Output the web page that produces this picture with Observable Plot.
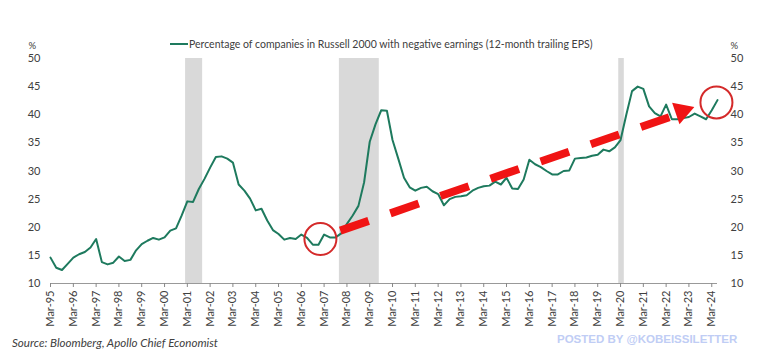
<!DOCTYPE html>
<html>
<head>
<meta charset="utf-8">
<script src="https://cdn.jsdelivr.net/npm/d3@7"></script>
<script src="https://cdn.jsdelivr.net/npm/@observablehq/plot@0.6"></script>
<style>
  html, body { margin: 0; padding: 0; background: #fff; }
  #wrap { position: relative; width: 763px; height: 361px; overflow: hidden; font-family: Lato, "Open Sans", sans-serif; }
  #chart { position: absolute; left: 0; top: 0; }
  .legend { position: absolute; left: 170px; top: 38px; font-size: 10.5px; color: #404040; white-space: nowrap; display: flex; align-items: center; }
  .legend .sw { display: inline-block; width: 18px; height: 2px; background: #1e7a5e; margin-right: 1px; }
  .source { position: absolute; left: 12px; top: 336px; font-size: 11.6px; font-style: italic; color: #404040; }
  .wm { position: absolute; left: 557px; top: 333px; font-family: "Liberation Sans", Arial, sans-serif; font-weight: bold; font-size: 11.5px; color: #c0cdf5; white-space: nowrap; }
</style>
</head>
<body>
<div id="wrap">
  <div id="chart"></div>
  <div class="legend"><span class="sw"></span><span id="legendText"></span></div>
  <div class="source" id="sourceText"></div>
  <div class="wm" id="wmText"></div>
</div>
<script>
// ---- Data (quarterly, starting Mar-95) ----
const startDate = "1995-03-01";
const pctNegative = [
  14.6, 12.8, 12.4, 13.5,   // 1995
  14.6, 15.2, 15.6, 16.4,   // 1996
  17.9, 13.8, 13.4, 13.7,   // 1997
  14.8, 14.0, 14.2, 15.9,   // 1998
  17.0, 17.6, 18.1, 17.8,   // 1999
  18.2, 19.4, 19.8, 22.1,   // 2000
  24.6, 24.5, 26.8, 28.6,   // 2001
  30.6, 32.5, 32.6, 32.2,   // 2002
  31.5, 27.6, 26.5, 25.1,   // 2003
  23.0, 23.3, 21.2, 19.5,   // 2004
  18.8, 17.8, 18.1, 17.9,   // 2005
  18.7, 18.1, 16.9, 16.9,   // 2006
  18.7, 18.2, 18.2, 18.9,   // 2007
  20.6, 22.1, 23.8, 28.0,   // 2008
  35.2, 38.3, 40.8, 40.7,   // 2009
  35.5, 32.2, 28.8, 27.1,   // 2010
  26.5, 27.0, 27.2, 26.4,   // 2011
  25.9, 23.9, 25.0, 25.4,   // 2012
  25.5, 25.7, 26.5, 27.0,   // 2013
  27.3, 27.4, 28.1, 27.6,   // 2014
  28.8, 26.9, 26.8, 28.5,   // 2015
  32.0, 31.2, 30.7, 30.0,   // 2016
  29.4, 29.4, 30.0, 30.1,   // 2017
  32.2, 32.3, 32.4, 32.7,   // 2018
  32.9, 33.8, 33.5, 34.2,   // 2019
  35.5, 40.0, 44.2, 45.0,   // 2020
  44.6, 41.5, 40.3, 39.7,   // 2021
  41.8, 39.2, 39.2, 39.4,   // 2022
  39.6, 40.2, 39.7, 39.2,   // 2023
  40.8, 42.6                // 2024
];

// Recession shading
const recessionStarts = ["2001-02-01", "2007-11-01", "2020-02-01"];
const recessionEnds   = ["2001-11-01", "2009-08-01", "2020-04-30"];

// Axis ticks
const tickYears = d3.range(1995, 2025);
const yTicks = [10, 15, 20, 25, 30, 35, 40, 45, 50];

// Annotations (date, value)
const circleDates  = ["2007-01-01", "2024-05-15"];
const circleValues = [17.9, 42.2];
const arrowFrom = {date: "2007-11-15", value: 19.4};
const arrowShaftEnd = {date: "2022-07-15", value: 39.9};
const arrowHead = {date: "2022-11-10", value: 40.6};

// Texts
const legendLabel = "Percentage of companies in Russell 2000 with negative earnings (12-month trailing EPS)";
const sourceLabel = "Source: Bloomberg, Apollo Chief Economist";
const watermark = "POSTED BY @KOBEISSILETTER";

// ---- Build tables ----
const parse = d3.utcParse("%Y-%m-%d");
const t0 = parse(startDate);
const series = pctNegative.map((v, i) => ({date: d3.utcMonth.offset(t0, 3 * i), value: v}));
const recessions = recessionStarts.map((s, i) => ({x1: parse(s), x2: parse(recessionEnds[i])}));
const circles = circleDates.map((d, i) => ({date: parse(d), value: circleValues[i]}));
const arrow = [{x1: parse(arrowFrom.date), y1: arrowFrom.value, x2: parse(arrowShaftEnd.date), y2: arrowShaftEnd.value}];
const head = [{date: parse(arrowHead.date), value: arrowHead.value}];
const xTicks = tickYears.map(y => new Date(Date.UTC(y, 2, 1)));

const green = "#1e7a5e";
const red = "#f01414";
const labelColor = "#404040";

const chart = Plot.plot({
  width: 763,
  height: 361,
  marginTop: 58,
  marginBottom: 78,
  marginLeft: 50,
  marginRight: 46,
  style: {fontFamily: "Lato, 'Open Sans', sans-serif", fontSize: "11px", color: labelColor, background: "transparent"},
  x: {type: "utc", domain: [parse("1995-03-01"), parse("2024-06-01")]},
  y: {domain: [10, 50]},
  marks: [
    Plot.rectX(recessions, {x1: "x1", x2: "x2", y1: 10, y2: 50, fill: "#d9d9d9"}),
    Plot.ruleY([10], {stroke: "#999", strokeWidth: 1}),
    Plot.axisX({ticks: xTicks, tickFormat: d3.utcFormat("Mar-%y"), tickSize: 4, tickPadding: 3, tickRotate: -90, stroke: "#888", label: null, fill: labelColor}),
    Plot.axisY({anchor: "left", ticks: yTicks, tickSize: 0, tickPadding: 10, label: null, fill: labelColor}),
    Plot.axisY({anchor: "right", ticks: yTicks, tickSize: 0, tickPadding: 13, label: null, fill: labelColor}),
    Plot.text(["%"], {frameAnchor: "top-left", dx: -22, dy: -16, textAnchor: "start", fill: labelColor, fontSize: 9.5}),
    Plot.text(["%"], {frameAnchor: "top-right", dx: 13, dy: -16, textAnchor: "start", fill: labelColor, fontSize: 9.5}),
    Plot.line(series, {x: "date", y: "value", stroke: green, strokeWidth: 2}),
    Plot.link(arrow, {x1: "x1", y1: "y1", x2: "x2", y2: "y2", stroke: red, strokeWidth: 8, strokeDasharray: "30,23", strokeLinecap: "butt"}),
    Plot.dot(head, {x: "date", y: "value", symbol: "triangle", r: 8.4, fill: red, stroke: "none", rotate: 71}),
    Plot.dot(circles, {x: "date", y: "value", r: 16, stroke: "#d42a2a", strokeWidth: 2, fill: "none"})
  ]
});
document.getElementById("chart").appendChild(chart);
document.getElementById("legendText").textContent = legendLabel;
document.getElementById("sourceText").textContent = sourceLabel;
document.getElementById("wmText").textContent = watermark;
</script>
</body>
</html>
